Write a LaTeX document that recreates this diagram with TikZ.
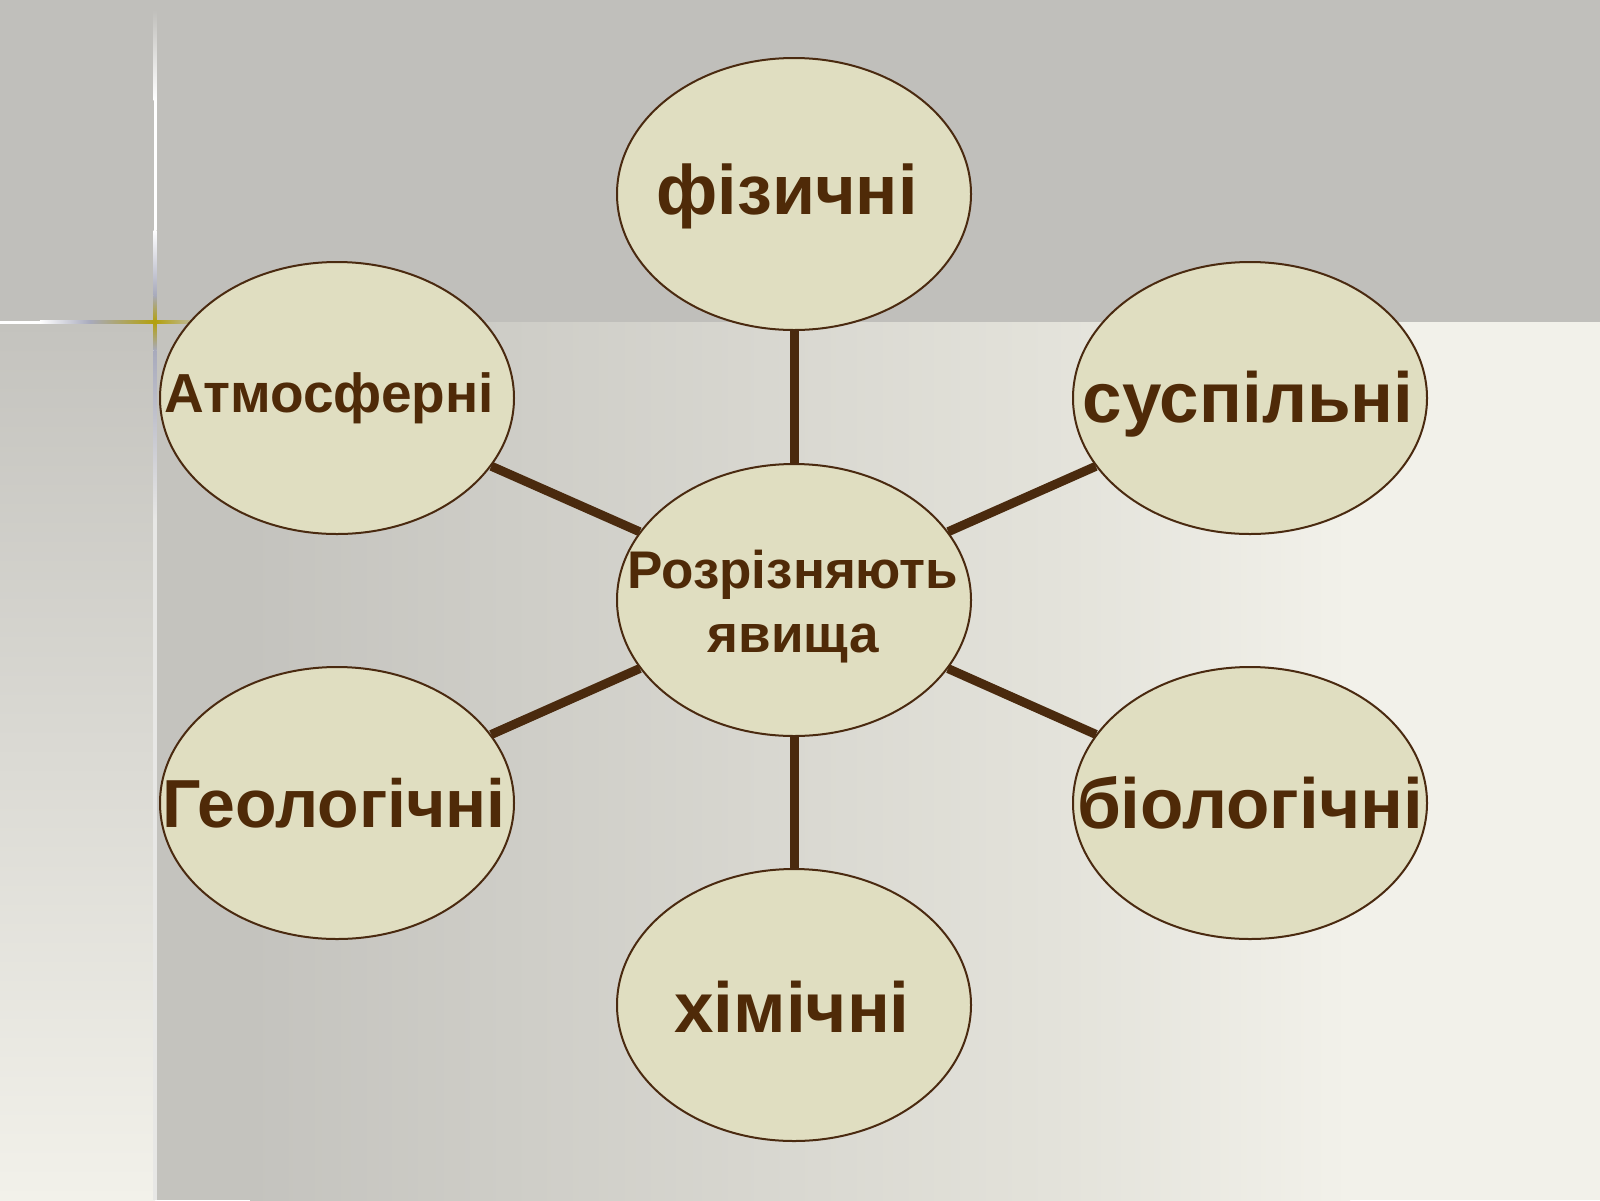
\documentclass[tikz,border=0pt]{standalone}
\usepackage{fontspec}
\setmainfont{Liberation Sans}
\usetikzlibrary{shapes.geometric}
\definecolor{bandgrey}{HTML}{C0BFBB}
\definecolor{maingrey}{HTML}{C4C3BE}
\definecolor{mainlight}{HTML}{F2F1EA}
\definecolor{midlight}{HTML}{E3E2DA}
\definecolor{ovalfill}{HTML}{E0DEC1}
\definecolor{ovalline}{HTML}{4A2A10}
\definecolor{txtbrown}{HTML}{4F2A08}
\definecolor{linebrown}{HTML}{4A2A0E}
\definecolor{hlblue}{HTML}{A8AABC}
\definecolor{hlgold}{HTML}{B3A00C}
\pgfdeclarelayer{bg}
\pgfdeclarelayer{edges}
\pgfsetlayers{bg,edges,main}
\begin{document}
\begin{tikzpicture}[x=1pt,y=-1pt,
  oval/.style={ellipse, draw=ovalline, line width=2pt, fill=ovalfill,
    minimum width=354pt, minimum height=272pt, inner sep=0pt},
  biglbl/.style={anchor=base, text=txtbrown, inner sep=0pt,
    font=\fontsize{71}{84}\selectfont\bfseries},
  midlbl/.style={anchor=base, text=txtbrown, inner sep=0pt,
    font=\fontsize{55}{64}\selectfont\bfseries},
  ctrlbl/.style={anchor=base, text=txtbrown, inner sep=0pt,
    font=\fontsize{53}{64}\selectfont\bfseries},
  spoke/.style={draw=linebrown, line width=9pt}]
\useasboundingbox (0,0) rectangle (1600,1200);
\begin{pgfonlayer}{bg}
  % top band
  \fill[bandgrey] (0,0) rectangle (1600,322);
  % left strip
  \shade[top color=maingrey, bottom color=mainlight] (0,322) rectangle (155,1200);
  % main area
  \fill[maingrey] (155,322) rectangle (250,1200);
  \shade[left color=maingrey, right color=midlight] (250,322) rectangle (1050,1200);
  \shade[left color=midlight, right color=mainlight] (1050,322) rectangle (1350,1200);
  \fill[mainlight] (1350,322) rectangle (1600,1200);
  % boundary line of the left strip
  \fill[white!60!maingrey] (153,345) rectangle (157,1200);
  % vertical highlight
  \shade[top color=bandgrey, bottom color=white] (153.5,10) rectangle (156.5,100);
  \fill[white] (153.5,100) rectangle (156.5,230);
  \shade[top color=white, bottom color=hlblue] (153.5,230) rectangle (156.5,295);
  \shade[top color=hlblue, bottom color=hlgold] (153.5,295) rectangle (156.5,322);
  \shade[top color=hlgold, bottom color=hlblue] (153.5,322) rectangle (156.5,350);
  \shade[top color=hlblue, bottom color=white!60!maingrey] (153.5,350) rectangle (156.5,520);
  % horizontal highlight
  \fill[white] (0,320.5) rectangle (40,323.5);
  \shade[left color=white, right color=hlblue] (40,320.5) rectangle (90,323.5);
  \shade[left color=hlblue, right color=hlgold] (90,320.5) rectangle (155,323.5);
  \shade[left color=hlgold, right color=bandgrey] (155,320.5) rectangle (200,323.5);
\end{pgfonlayer}

% ellipses
\node[oval] (ctr) at (794,600) {};
\node[oval] (top) at (794,194) {};
\node[oval] (atm) at (337,398) {};
\node[oval] (soc) at (1250,398) {};
\node[oval] (geo) at (337,803) {};
\node[oval] (bio) at (1250,803) {};
\node[oval] (chem) at (794,1005) {};

% spokes
\begin{pgfonlayer}{edges}
  \draw[spoke] (ctr) -- (top);
  \draw[spoke] (ctr) -- (atm);
  \draw[spoke] (ctr) -- (soc);
  \draw[spoke] (ctr) -- (geo);
  \draw[spoke] (ctr) -- (bio);
  \draw[spoke] (ctr) -- (chem);
\end{pgfonlayer}

% labels
\node[ctrlbl] (ctr1) at (793,588) {Розрізняють};
\node[ctrlbl] (ctr2) at (793,652) {явища};
\node[biglbl, font=\fontsize{70}{84}\selectfont\bfseries] (ttop) at (787,214) {фізичні};
\node[midlbl] (tatm) at (329,412) {Атмосферні};
\node[biglbl] (tsoc) at (1248,422) {суспільні};
\node[biglbl, font=\fontsize{68}{80}\selectfont\bfseries] (tgeo) at (334,827) {Геологічні};
\node[biglbl] (tbio) at (1250,828) {біологічні};
\node[biglbl] (tchem) at (792,1032) {хімічні};
\end{tikzpicture}
\end{document}
